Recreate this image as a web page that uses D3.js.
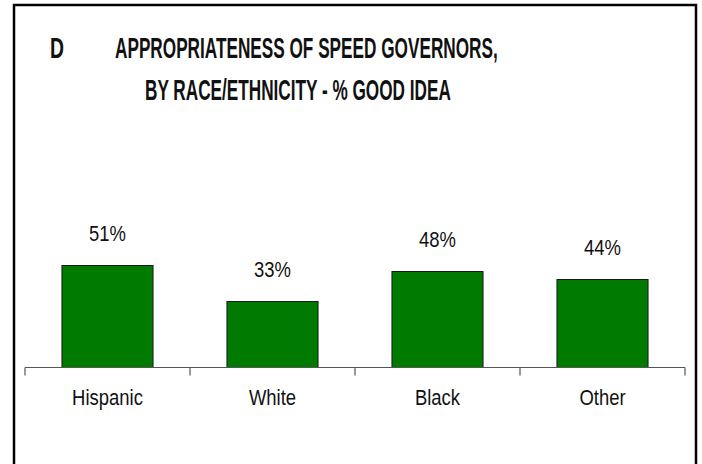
<!DOCTYPE html>
<html>
<head>
<meta charset="utf-8">
<script src="https://cdn.jsdelivr.net/npm/d3@7"></script>
<style>
html, body { margin: 0; padding: 0; background: #fff; }
svg { display: block; }
text { font-family: "Liberation Sans Narrow", "Arial Narrow", "Liberation Sans", Arial, sans-serif; }
</style>
</head>
<body>
<svg id="chart" width="702" height="464"></svg>
<script>
const categories = ["Hispanic", "White", "Black", "Other"];
const values = [51, 33, 48, 44];
const valueLabels = ["51%", "33%", "48%", "44%"];
const titleLetter = "D";
const titleLine1 = "APPROPRIATENESS OF SPEED GOVERNORS,";
const titleLine2 = "BY RACE/ETHNICITY - % GOOD IDEA";

const svg = d3.select("#chart");

// place a text at (x, y) squeezed horizontally to a given width
function squeezed(parent, str, x, y, width, size, weight, anchor) {
  const t = parent.append("text")
    .attr("font-size", size).attr("font-weight", weight || "normal")
    .attr("fill", "#111")
    .text(str);
  const w = t.node().getComputedTextLength();
  const s = width / w;
  const dx = anchor === "middle" ? -width / 2 : 0;
  t.attr("transform", `translate(${x + dx},${y}) scale(${s},1)`);
  return t;
}

// frame (bottom edge lies beyond the picture)
svg.append("path")
  .attr("d", "M14,470 L14,5 L696,5 L696,470")
  .attr("fill", "none")
  .attr("stroke", "#000")
  .attr("stroke-width", 2.5);

// title
squeezed(svg, titleLetter, 50, 58, 14, 30, "bold");
squeezed(svg, titleLine1, 115, 58, 383, 30, "bold");
squeezed(svg, titleLine2, 145, 100, 306, 30, "bold");

const x = d3.scaleBand().domain(categories).range([25, 685])
  .paddingInner(0.448).paddingOuter(0.224);
const y = d3.scaleLinear().domain([0, 100]).range([367.5, 167.5]);

// bars
svg.selectAll("rect.bar").data(values).enter().append("rect")
  .attr("class", "bar")
  .attr("x", (d, i) => x(categories[i]))
  .attr("y", d => y(d))
  .attr("width", x.bandwidth())
  .attr("height", d => y(0) - y(d))
  .attr("fill", "#007a00")
  .attr("stroke", "#1a1a1a")
  .attr("stroke-width", 1);

// value labels
const valG = svg.append("g");
values.forEach((d, i) => {
  const cx = x(categories[i]) + x.bandwidth() / 2;
  const t = valG.append("text").attr("font-size", 22).attr("fill", "#111").text(valueLabels[i]);
  const w = t.node().getComputedTextLength() * 0.84;
  t.attr("transform", `translate(${cx - w / 2},${y(d) - 25}) scale(0.84,1)`);
});

// axis
const axisG = svg.append("g");
axisG.append("line")
  .attr("x1", 25).attr("x2", 685).attr("y1", y(0)).attr("y2", y(0))
  .attr("stroke", "#555").attr("stroke-width", 1.2);
const boundaries = d3.range(categories.length + 1).map(i => 25 + i * x.step());
axisG.selectAll("line.tick").data(boundaries).enter().append("line")
  .attr("class", "tick")
  .attr("x1", d => d).attr("x2", d => d)
  .attr("y1", y(0)).attr("y2", y(0) + 8)
  .attr("stroke", "#555").attr("stroke-width", 1.2);
categories.forEach(c => {
  const cx = x(c) + x.bandwidth() / 2;
  const t = axisG.append("text").attr("font-size", 22).attr("fill", "#111").text(c);
  const w = t.node().getComputedTextLength() * 0.84;
  t.attr("transform", `translate(${cx - w / 2},405) scale(0.84,1)`);
});
</script>
</body>
</html>
